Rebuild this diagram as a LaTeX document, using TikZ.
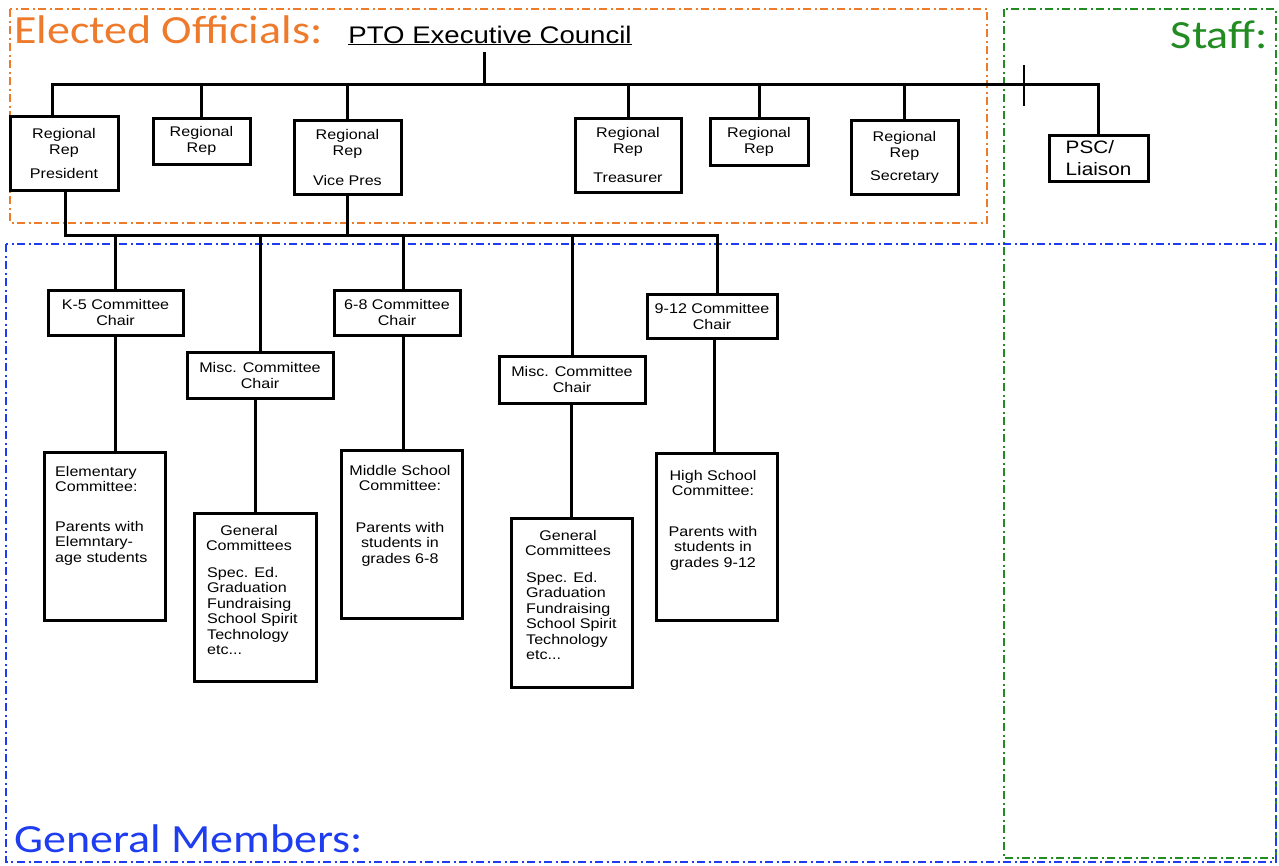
\documentclass[tikz,border=0pt]{standalone}
\usepackage{fontspec}
\setmainfont{Liberation Sans}
\newfontfamily\boxfont[FakeStretch=1.15]{Liberation Sans}
\newfontfamily\regionfont[FakeStretch=1.15]{Carlito}
\definecolor{eorange}{HTML}{EE7A2C}
\definecolor{sgreen}{HTML}{228B22}
\definecolor{gblue}{HTML}{1E3CF0}
\begin{document}
\begin{tikzpicture}[x=1pt,y=-1pt,
  orgbox/.style={draw=black, line width=3pt, inner sep=0pt, align=center,
     font=\boxfont\fontsize{14}{16}\selectfont},
  conn/.style={draw=black, line width=3pt},
  region/.style={line width=2.2pt, dash pattern=on 8pt off 3.5pt on 2pt off 3.5pt},
  btxt/.style={inner sep=0pt, font=\boxfont\fontsize{14}{15.5}\selectfont},
  rtitle/.style={inner sep=0pt, font=\regionfont\fontsize{40}{44}\selectfont},
]
\useasboundingbox (0,0) rectangle (1279,865);
% regions
\draw[region, eorange] (10,9) rectangle (987,223);
\draw[region, sgreen] (1004,9) rectangle (1276,858);
\draw[region, gblue] (6,244) rectangle (1276,862);
\node[rtitle, text=eorange, anchor=base west] (elected) at (14,43) {Elected Officials:};
\node[rtitle, text=sgreen, anchor=base east] (staff) at (1268,48) {Staff:};
\node[rtitle, text=gblue, anchor=base west] (general) at (14,852) {General Members:};
\node[inner sep=0pt, font=\boxfont\fontsize{24}{28}\selectfont, anchor=base] (pto) at (490,43) {\underline{PTO Executive Council}};
% regional reps
\node[orgbox, minimum width=108pt, minimum height=74pt] (r1) at (64,153) {Regional\\Rep\\[8pt]President};
\node[orgbox, minimum width=97pt, minimum height=46pt] (r2) at (201.5,141) {Regional\\Rep};
\node[orgbox, minimum width=107pt, minimum height=74pt] (r3) at (347.5,157) {Regional\\Rep\\[14pt]Vice Pres};
\node[orgbox, minimum width=106pt, minimum height=74pt] (r4) at (628,155) {Regional\\Rep\\[13pt]Treasurer};
\node[orgbox, minimum width=98pt, minimum height=47pt] (r5) at (759,141.5) {Regional\\Rep};
\node[orgbox, minimum width=107pt, minimum height=74pt] (r6) at (904.5,157) {Regional\\Rep\\[7pt]Secretary};
\node[orgbox, minimum width=99pt, minimum height=46pt, align=left, font=\boxfont\fontsize{18}{22}\selectfont] (psc) at (1098.5,158) {PSC/\\Liaison};
% chairs
\node[orgbox, minimum width=135pt, minimum height=45pt] (k5) at (115.5,312.5) {K-5 Committee\\Chair};
\node[orgbox, minimum width=126pt, minimum height=45pt] (c68) at (397,312.5) {6-8 Committee\\Chair};
\node[orgbox, minimum width=130pt, minimum height=44pt] (c912) at (712,316) {9-12 Committee\\Chair};
\node[orgbox, minimum width=146pt, minimum height=46pt] (misc1) at (260,375) {Misc. Committee\\Chair};
\node[orgbox, minimum width=146pt, minimum height=47pt] (misc2) at (572,379.5) {Misc. Committee\\Chair};
% committees
\node[orgbox, minimum width=121pt, minimum height=168pt] (elem) at (104.5,536) {};
\node[orgbox, minimum width=122pt, minimum height=168pt] (gen1) at (255,597) {};
\node[orgbox, minimum width=121pt, minimum height=168pt] (mid) at (401.5,534) {};
\node[orgbox, minimum width=121pt, minimum height=169pt] (gen2) at (571.5,602.5) {};
\node[orgbox, minimum width=121pt, minimum height=167pt] (high) at (716.5,536.5) {};
\node[btxt, anchor=north west, align=left] (elemtxt) at (55,466) {Elementary\\Committee:\\[24pt]Parents with\\Elemntary-\\age students};
\node[btxt, anchor=north, align=center] (gen1head) at (249,525) {General\\Committees};
\node[btxt, anchor=north west, align=left] (gen1list) at (207,567) {Spec. Ed.\\Graduation\\Fundraising\\School Spirit\\Technology\\etc...};
\node[btxt, anchor=north, align=center] (midtxt) at (400,465) {Middle School\\Committee:\\[26pt]Parents with\\students in\\grades 6-8};
\node[btxt, anchor=north, align=center] (gen2head) at (568,530) {General\\Committees};
\node[btxt, anchor=north west, align=left] (gen2list) at (526,572) {Spec. Ed.\\Graduation\\Fundraising\\School Spirit\\Technology\\etc...};
\node[btxt, anchor=north, align=center] (hightxt) at (713,470) {High School\\Committee:\\[25pt]Parents with\\students in\\grades 9-12};
% upper tree
\coordinate (top) at (484,52);
\coordinate (bus) at (484,84);
\coordinate (tick) at (1024,84);
\draw[conn] (top) -- (bus);
\draw[conn] ([xshift=-12pt]r1.north) -- ([xshift=-12pt]r1.north |- bus) -- (psc.north |- bus) -- (psc.north);
\foreach \r in {r2,r3,r4,r5,r6} \draw[conn] (\r.north) -- (\r.north |- bus);
\draw[draw=black, line width=2.4pt] ([yshift=19pt]tick) -- ([yshift=-22pt]tick);
% lower tree
\coordinate (bus2) at (0,235);
\draw[conn] ([xshift=1pt]r1.south) -- ([xshift=1pt]r1.south |- bus2) -- ([xshift=5pt]c912.north |- bus2) -- ([xshift=5pt]c912.north);
\draw[conn] (r3.south) -- (r3.south |- bus2);
\foreach \c in {k5,misc1,misc2} \draw[conn] (\c.north) -- (\c.north |- bus2);
\draw[conn] ([xshift=6pt]c68.north) -- ([xshift=6pt]c68.north |- bus2);
\draw[conn] (elem.north -| k5.south) -- (k5.south);
\draw[conn] (gen1.north) -- (gen1.north |- misc1.south);
\draw[conn] ([xshift=6pt]c68.south) -- ([xshift=6pt]c68.south |- mid.north);
\draw[conn] (gen2.north) -- (gen2.north |- misc2.south);
\draw[conn] ([xshift=2pt]c912.south) -- ([xshift=2pt]c912.south |- high.north);
\end{tikzpicture}
\end{document}
